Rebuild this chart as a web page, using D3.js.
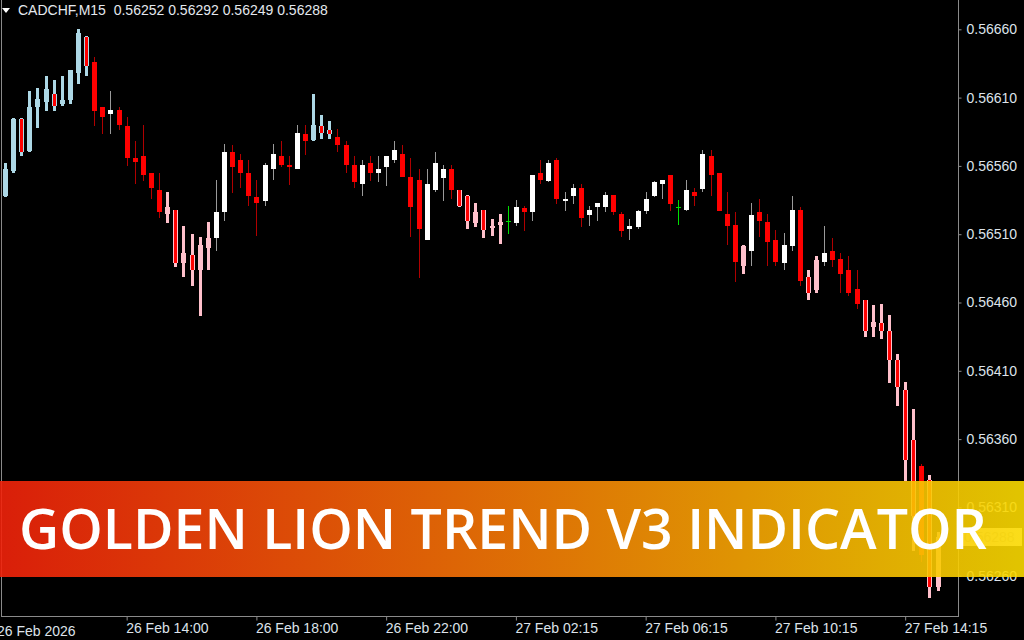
<!DOCTYPE html>
<html><head><meta charset="utf-8">
<script src="https://cdn.jsdelivr.net/npm/d3@7"></script>
<style>html,body{margin:0;padding:0;background:#000;overflow:hidden}</style>
</head><body>
<svg id="c" width="1024" height="640"></svg>
<script>
// ---------- data ----------
const symbolTitle = "CADCHF,M15";
const lastOHLC = [0.56252, 0.56292, 0.56249, 0.56288];
const open  = [0.56538,0.56556,0.56594,0.56571,0.56603,0.56607,0.56613,0.56605,0.56608,0.56628,0.56654,0.56636,0.56603,0.56598,0.56601,0.56589,0.56566,0.56567,0.56555,0.56542,0.56525,0.56528,0.56489,0.56495,0.56484,0.56500,0.56507,0.56526,0.56570,0.56564,0.56555,0.56537,0.56534,0.56558,0.56567,0.56561,0.56558,0.56583,0.56579,0.56589,0.56586,0.56581,0.56575,0.56561,0.56547,0.56562,0.56555,0.56559,0.56564,0.56569,0.56552,0.56550,0.56506,0.56542,0.56551,0.56558,0.56542,0.56538,0.56518,0.56528,0.56515,0.56517,0.56520,0.56518,0.56529,0.56526,0.56555,0.56549,0.56564,0.56534,0.56538,0.56544,0.56524,0.56530,0.56530,0.56539,0.56525,0.56514,0.56515,0.56527,0.56538,0.56547,0.56553,0.56530,0.56528,0.56541,0.56543,0.56567,0.56555,0.56525,0.56517,0.56487,0.56498,0.56526,0.56519,0.56506,0.56489,0.56501,0.56528,0.56479,0.56469,0.56490,0.56498,0.56492,0.56484,0.56470,0.56462,0.56442,0.56445,0.56439,0.56418,0.56396,0.56359,0.56340,0.56330,0.56252];
const high  = [0.56562,0.56595,0.56595,0.56615,0.56617,0.56626,0.56623,0.56626,0.56630,0.56660,0.56655,0.56640,0.56603,0.56615,0.56603,0.56596,0.56578,0.56590,0.56555,0.56555,0.56541,0.56528,0.56516,0.56510,0.56508,0.56519,0.56550,0.56576,0.56575,0.56569,0.56564,0.56550,0.56562,0.56576,0.56578,0.56567,0.56590,0.56590,0.56613,0.56597,0.56593,0.56587,0.56578,0.56567,0.56564,0.56567,0.56567,0.56567,0.56578,0.56575,0.56566,0.56558,0.56558,0.56570,0.56561,0.56561,0.56542,0.56539,0.56533,0.56528,0.56521,0.56525,0.56531,0.56535,0.56531,0.56553,0.56564,0.56564,0.56566,0.56541,0.56547,0.56547,0.56531,0.56533,0.56541,0.56539,0.56526,0.56521,0.56528,0.56541,0.56549,0.56550,0.56553,0.56535,0.56550,0.56544,0.56572,0.56572,0.56555,0.56541,0.56526,0.56502,0.56533,0.56536,0.56525,0.56513,0.56511,0.56538,0.56530,0.56484,0.56494,0.56516,0.56507,0.56496,0.56494,0.56484,0.56462,0.56458,0.56459,0.56451,0.56422,0.56402,0.56382,0.56342,0.56334,0.56292];
const low   = [0.56537,0.56555,0.56567,0.56570,0.56588,0.56600,0.56600,0.56604,0.56605,0.56620,0.56626,0.56589,0.56583,0.56583,0.56586,0.56560,0.56547,0.56549,0.56536,0.56522,0.56518,0.56486,0.56479,0.56472,0.56450,0.56484,0.56498,0.56520,0.56540,0.56544,0.56531,0.56509,0.56531,0.56550,0.56559,0.56546,0.56558,0.56568,0.56578,0.56580,0.56580,0.56570,0.56555,0.56544,0.56538,0.56549,0.56548,0.56545,0.56562,0.56552,0.56508,0.56478,0.56506,0.56541,0.56534,0.56536,0.56530,0.56514,0.56515,0.56507,0.56509,0.56503,0.56510,0.56516,0.56512,0.56520,0.56547,0.56548,0.56532,0.56527,0.56532,0.56515,0.56516,0.56520,0.56526,0.56524,0.56508,0.56506,0.56514,0.56525,0.56537,0.56536,0.56527,0.56517,0.56527,0.56531,0.56541,0.56538,0.56527,0.56502,0.56475,0.56481,0.56487,0.56508,0.56487,0.56487,0.56484,0.56498,0.56472,0.56462,0.56467,0.56487,0.56486,0.56467,0.56465,0.56455,0.56435,0.56435,0.56433,0.56401,0.56384,0.56329,0.56278,0.56270,0.56244,0.56249];
const close = [0.56558,0.56594,0.56570,0.56603,0.56609,0.56616,0.56604,0.56608,0.56630,0.56657,0.56633,0.56600,0.56596,0.56601,0.56590,0.56566,0.56563,0.56553,0.56544,0.56526,0.56530,0.56489,0.56496,0.56484,0.56502,0.56507,0.56526,0.56570,0.56559,0.56555,0.56538,0.56533,0.56561,0.56569,0.56561,0.56559,0.56584,0.56578,0.56590,0.56584,0.56583,0.56575,0.56561,0.56548,0.56561,0.56555,0.56558,0.56567,0.56572,0.56552,0.56530,0.56514,0.56547,0.56562,0.56558,0.56542,0.56531,0.56520,0.56526,0.56513,0.56516,0.56519,0.56520,0.56530,0.56526,0.56553,0.56550,0.56562,0.56536,0.56536,0.56544,0.56522,0.56528,0.56533,0.56539,0.56526,0.56512,0.56516,0.56527,0.56536,0.56548,0.56550,0.56532,0.56530,0.56542,0.56538,0.56569,0.56553,0.56527,0.56516,0.56490,0.56501,0.56524,0.56520,0.56504,0.56490,0.56502,0.56528,0.56476,0.56467,0.56491,0.56496,0.56491,0.56481,0.56467,0.56459,0.56439,0.56446,0.56439,0.56418,0.56398,0.56345,0.56304,0.56275,0.56252,0.56288];
// indicator state per bar: B = bull trend (light blue), P = bear trend (pink), N = plain candle, G = neutral doji
const trend = ("BBBBBBBBBBB"+"NNNNNNNNN"+"PPPPPP"+"NNNNNNNNNNNN"+"BBB"+"NNNNNNNNNNNNNNN"+"PPPPPP"+"G"+
               "NNNNNNNNNNNNNNNNNNNN"+"G"+"NNNNNNN"+"P"+"NNNNNNN"+"PP"+"NNNNN"+"PPPPPPP"+"N"+"PP").split("");
const priceTicks = [0.56660,0.56610,0.56560,0.56510,0.56460,0.56410,0.56360,0.56310,0.56260];
const timeTickIdx = [15,31,47,63,79,95,111];
const timeTickLabels = ["26 Feb 14:00","26 Feb 18:00","26 Feb 22:00","27 Feb 02:15","27 Feb 06:15","27 Feb 10:15","27 Feb 14:15"];
const firstDateLabel = "26 Feb 2026";
const bannerTitle = "GOLDEN LION TREND V3 INDICATOR";

// ---------- drawing ----------
const svg = d3.select("#c");
svg.append("rect").attr("width",1024).attr("height",640).attr("fill","#000");
const n = open.length;
const x = d3.scalePoint().domain(d3.range(n)).range([5, 937.6]);
const y = d3.scaleLinear().domain([0.56260, 0.56660]).range([575.7, 29.3]);

const plot = svg.append("g").attr("shape-rendering","crispEdges");
const bars = d3.range(n).map(i => ({i, o:open[i], h:high[i], l:low[i], c:close[i], t:trend[i]}));
const cx = d => Math.round(x(d.i));
const yTop = (a,b) => Math.round(y(Math.max(a,b)));
const yHgt = (a,b) => Math.max(1, Math.round(y(Math.min(a,b))) - Math.round(y(Math.max(a,b))));
const isInd = d => d.t==="B" || d.t==="P";

// wicks
plot.selectAll(".wick").data(bars).join("rect")
  .attr("x", d => isInd(d) ? cx(d)-1 : cx(d))
  .attr("width", d => isInd(d) ? 3 : 1)
  .attr("y", d => yTop(d.h,d.l)).attr("height", d => yHgt(d.h,d.l))
  .attr("fill", d => d.t==="B" ? "#add8e6" : d.t==="P" ? "#ffc0cb" : d.t==="G" ? "#00e000" :
        (d.c>=d.o ? "#9a9a9a" : "#b00000"));
// bodies
plot.selectAll(".body").data(bars.filter(d=>d.t!=="G")).join("rect")
  .attr("x", d => cx(d)-2).attr("width", 5)
  .attr("y", d => yTop(d.o,d.c)).attr("height", d => Math.max(2,yHgt(d.o,d.c)))
  .attr("fill", d => d.t==="B" ? "#add8e6" : d.t==="P" ? "#ffc0cb" : (d.c>=d.o ? "#ffffff" : "#ff0000"));
// bearish core inside indicator bars
plot.selectAll(".core").data(bars.filter(d=>isInd(d) && d.c<d.o)).join("rect")
  .attr("x", d => cx(d)-1).attr("width", 3)
  .attr("y", d => yTop(d.o,d.c)).attr("height", d => yHgt(d.o,d.c))
  .attr("fill", "#ff0000");
// doji crosses
plot.selectAll(".doji").data(bars.filter(d=>d.t==="G")).join("rect")
  .attr("x", d => cx(d)-2).attr("width", 5)
  .attr("y", d => Math.round(y(d.o))).attr("height", 1).attr("fill","#00e000");

// frame
const frame = svg.append("g").attr("stroke","#8a8a8a").attr("stroke-width",1).attr("shape-rendering","crispEdges");
frame.append("line").attr("x1",1.5).attr("x2",1.5).attr("y1",0).attr("y2",617);
frame.append("line").attr("x1",1.5).attr("x2",958.5).attr("y1",616.5).attr("y2",616.5);

// price axis
const yAxis = svg.append("g").attr("transform","translate(958.5,0)")
  .call(d3.axisRight(y).tickValues(priceTicks).tickFormat(d3.format(".5f")).tickSize(3).tickPadding(5));
yAxis.select(".domain").attr("stroke","#8a8a8a").attr("d","M0,0V617");
yAxis.selectAll(".tick line").attr("stroke","#8a8a8a");
yAxis.selectAll("text").attr("fill","#dde3ea").attr("font-family","Liberation Sans, Arial, sans-serif").attr("font-size",14);

// time axis
const xAxis = svg.append("g").attr("transform","translate(0,616.5)")
  .call(d3.axisBottom(x).tickValues(timeTickIdx).tickFormat((d,k)=>timeTickLabels[k]).tickSize(4).tickPadding(3));
xAxis.select(".domain").remove();
xAxis.selectAll(".tick line").attr("stroke","#8a8a8a");
xAxis.selectAll("text").attr("fill","#dde3ea").attr("font-family","Liberation Sans, Arial, sans-serif")
  .attr("font-size",14).attr("text-anchor","start").attr("dx",-1);
svg.append("text").attr("x",-3).attr("y",636).attr("fill","#dde3ea")
  .attr("font-family","Liberation Sans, Arial, sans-serif").attr("font-size",14).text(firstDateLabel);

// header
svg.append("path").attr("d","M2,8L10,8L6,13Z").attr("fill","#ffffff");
svg.append("text").attr("x",18).attr("y",15).attr("fill","#e4e8ee")
  .attr("font-family","Liberation Sans, Arial, sans-serif").attr("font-size",14)
  .style("white-space","pre")
  .text(symbolTitle + "  " + lastOHLC.map(d3.format(".5f")).join(" "));

// current price label
const cp = lastOHLC[3];
svg.append("rect").attr("x",960).attr("y",Math.round(y(cp))-9).attr("width",62).attr("height",18).attr("fill","#ffffff");
svg.append("text").attr("x",964).attr("y",y(cp)).attr("dy","0.35em").attr("fill","#c8c8c8")
  .attr("font-family","Liberation Sans, Arial, sans-serif").attr("font-size",14).text(d3.format(".5f")(cp));

// banner
const defs = svg.append("defs");
const lg = defs.append("linearGradient").attr("id","bg").attr("x1","0").attr("x2","1").attr("y1","0").attr("y2","0");
lg.append("stop").attr("offset","0%").attr("stop-color","#f2220a");
lg.append("stop").attr("offset","50%").attr("stop-color","#f67a06");
lg.append("stop").attr("offset","100%").attr("stop-color","#fada00");
svg.append("rect").attr("x",0).attr("y",481).attr("width",1024).attr("height",96)
  .attr("fill","url(#bg)").attr("opacity",0.9);
svg.append("text").attr("x",19).attr("y",549).attr("fill","#ffffff")
  .attr("font-family","Open Sans, Lato, sans-serif").attr("font-weight",600).attr("font-size",56)
  .attr("textLength",968).attr("lengthAdjust","spacingAndGlyphs").text(bannerTitle);
</script>
</body></html>
